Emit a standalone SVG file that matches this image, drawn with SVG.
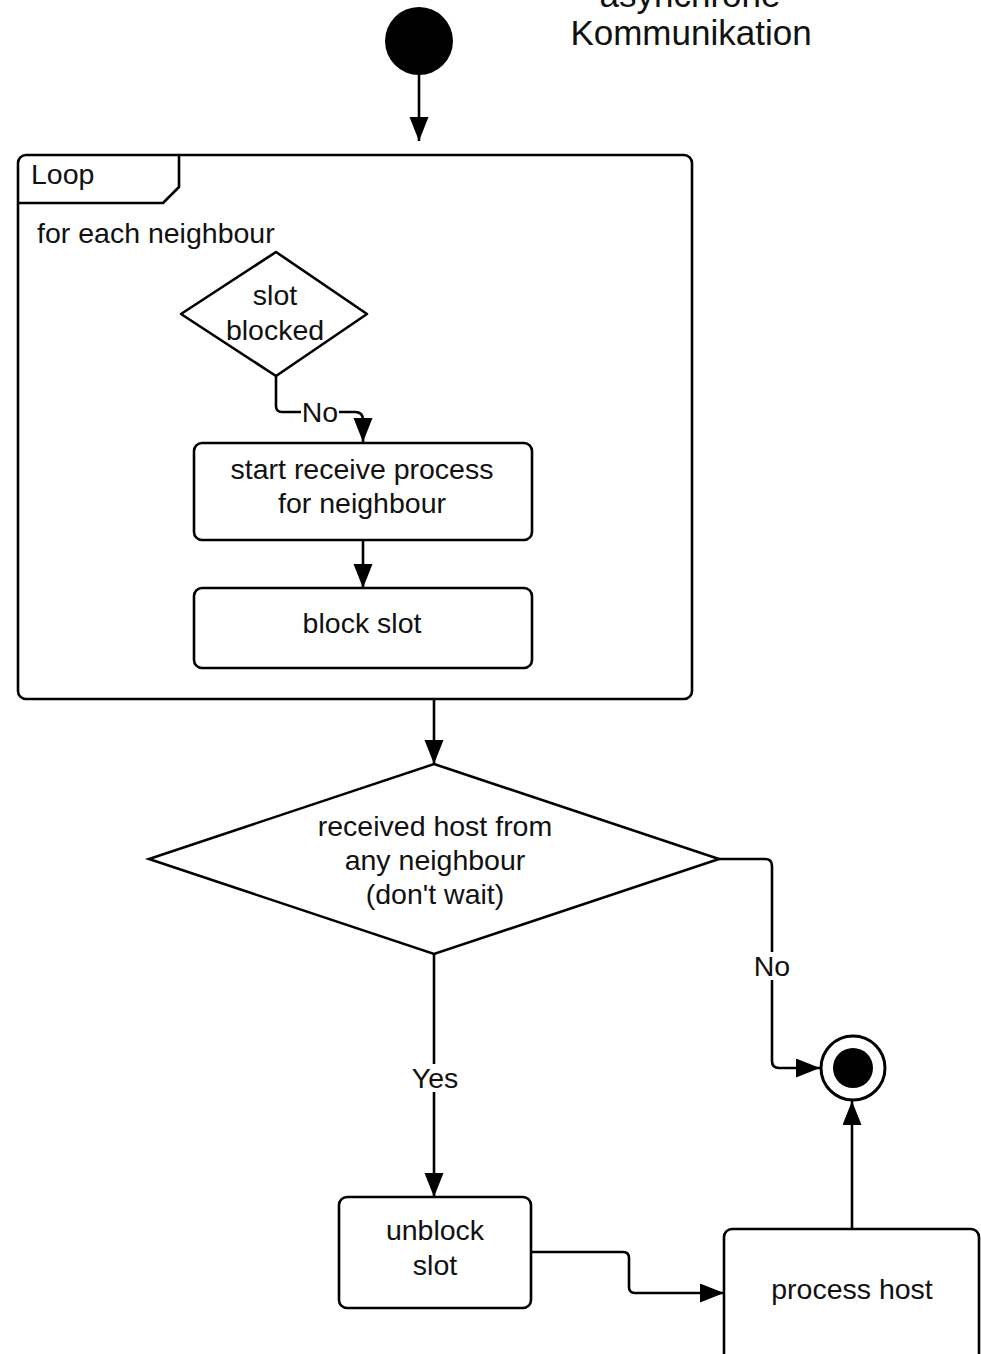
<svg xmlns="http://www.w3.org/2000/svg" width="981" height="1354" viewBox="0 0 981 1354">
  <style>
    .shape { fill: #ffffff; stroke: #000000; stroke-width: 2.6; }
    .edge { fill: none; stroke: #000000; stroke-width: 2.6; stroke-linejoin: round; }
    .txt { font-family: "Liberation Sans", Arial, sans-serif; font-size: 28.5px; fill: #111111; text-anchor: middle; }
    .left { text-anchor: start; }
    .title { font-size: 35px; }
    .lblbg { fill: #ffffff; stroke: none; }
  </style>
  <defs>
    <marker id="arrow" markerUnits="userSpaceOnUse" markerWidth="25" markerHeight="20" refX="24" refY="9.5" orient="auto">
      <path d="M0,0 L24,9.5 L0,19 Z" fill="#000000"/>
    </marker>
  </defs>

  <rect width="981" height="1354" fill="#ffffff"/>

  <!-- title -->
  <g id="title">
    <text class="txt title" x="690" y="7">asynchrone</text>
    <text class="txt title" x="691" y="45">Kommunikation</text>
  </g>

  <!-- start state -->
  <g id="start">
    <circle cx="419" cy="41" r="34" fill="#000000"/>
  </g>

  <!-- loop frame -->
  <g id="loop">
    <rect class="shape" x="18" y="155" width="674" height="544" rx="8"/>
    <path class="edge" d="M18,203 L163,203 L179,187 L179,155"/>
    <text class="txt left" x="31" y="184">Loop</text>
    <text class="txt left" x="37" y="243">for each neighbour</text>
  </g>

  <g id="slot-blocked">
    <path class="shape" d="M276,252 L367,314 L276,376 L181,314 Z" stroke-linejoin="round"/>
    <text class="txt" x="275" y="305">slot</text>
    <text class="txt" x="275" y="340">blocked</text>
  </g>

  <g id="start-receive">
    <rect class="shape" x="194" y="443" width="338" height="97" rx="8"/>
    <text class="txt" x="362" y="479">start receive process</text>
    <text class="txt" x="362" y="513">for neighbour</text>
  </g>

  <g id="block-slot">
    <rect class="shape" x="194" y="588" width="338" height="80" rx="8"/>
    <text class="txt" x="362" y="633">block slot</text>
  </g>

  <g id="received-host">
    <path class="shape" d="M434,764 L719,859 L434,954 L149,859 Z"/>
    <text class="txt" x="435" y="836">received host from</text>
    <text class="txt" x="435" y="870">any neighbour</text>
    <text class="txt" x="435" y="904">(don't wait)</text>
  </g>

  <g id="unblock-slot">
    <rect class="shape" x="339" y="1197" width="192" height="111" rx="8"/>
    <text class="txt" x="435" y="1240">unblock</text>
    <text class="txt" x="435" y="1275">slot</text>
  </g>

  <g id="process-host">
    <rect class="shape" x="724" y="1229" width="255" height="140" rx="8"/>
    <text class="txt" x="852" y="1299">process host</text>
  </g>

  <g id="end">
    <circle cx="853" cy="1068" r="32" fill="#ffffff" stroke="#000000" stroke-width="3"/>
    <circle cx="853" cy="1068" r="20" fill="#000000"/>
  </g>

  <!-- connectors -->
  <g id="connectors">
    <path class="edge" d="M419,75 L419,141" marker-end="url(#arrow)"/>
    <path class="edge" d="M276,376 L276,406 Q276,412 282,412 L355,412 Q363,412 363,420 L363,442" marker-end="url(#arrow)"/>
    <path class="edge" d="M363,540 L363,588" marker-end="url(#arrow)"/>
    <path class="edge" d="M434,699 L434,764" marker-end="url(#arrow)"/>
    <path class="edge" d="M719,859 L765,859 Q772,859 772,866 L772,1061 Q772,1068 779,1068 L820,1068" marker-end="url(#arrow)"/>
    <path class="edge" d="M434,954 L434,1197" marker-end="url(#arrow)"/>
    <path class="edge" d="M531,1252 L623,1252 Q629,1252 629,1258 L629,1287 Q629,1293 635,1293 L724,1293" marker-end="url(#arrow)"/>
    <path class="edge" d="M852,1229 L852,1101" marker-end="url(#arrow)"/>

    <!-- edge labels -->
    <rect class="lblbg" x="301" y="400" width="38" height="26"/>
    <text class="txt" x="320" y="422">No</text>
    <rect class="lblbg" x="754" y="952" width="36" height="28"/>
    <text class="txt" x="772" y="976">No</text>
    <rect class="lblbg" x="411" y="1064" width="48" height="28"/>
    <text class="txt" x="435" y="1088">Yes</text>
  </g>
</svg>
